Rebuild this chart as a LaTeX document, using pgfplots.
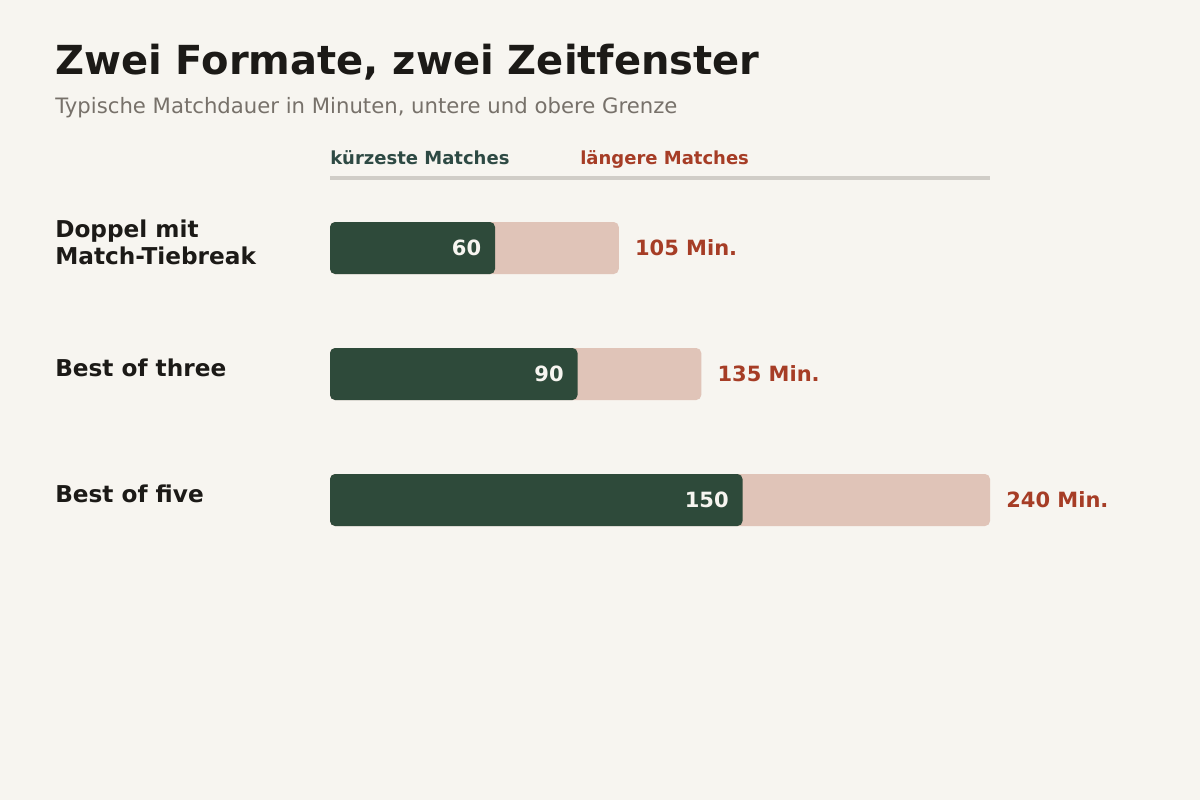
\documentclass[border=0pt]{standalone}
\usepackage{fontspec}
\setmainfont{DejaVu Sans}
\usepackage{pgfplots}
\pgfplotsset{compat=1.18}
\usepackage{pgfplotstable}

\definecolor{bg}{HTML}{F7F5F0}
\definecolor{dark}{HTML}{2E4A3A}
\definecolor{pinkbar}{HTML}{E0C4B8}
\definecolor{rust}{HTML}{A63D26}
\definecolor{ink}{HTML}{1C1A17}
\definecolor{grayt}{HTML}{77716A}
\definecolor{rulec}{HTML}{D0CDC7}
\definecolor{legdark}{HTML}{2E4A44}

% Matchdauer in Minuten
\pgfplotstableread{
pos short long
0   60    105
1   90    135
2   150   240
}\dauer

\begin{document}
\begin{tikzpicture}
% pixel grid: 1px = 0.75pt, y downwards
\begin{scope}[x=0.75pt,y=-0.75pt]
  \fill[bg] (0,0) rectangle (1200,800);
\end{scope}

\begin{axis}[
  at={(0,0)}, anchor=north west,
  scale only axis, width=900pt, height=600pt,
  hide axis, clip=false,
  xmin=-120, xmax=316.3636,
  ymin=-1.96825, ymax=4.38095, y dir=reverse,
  /pgf/number format/assume math mode=true,
  xbar, bar width=39pt, bar shift=0pt,
  point meta=x,
]
  % obere Grenze
  \addplot[fill=pinkbar, draw=none, rounded corners=3.75pt,
    nodes near coords={\pgfmathprintnumber{\pgfplotspointmeta}~Min.},
    every node near coord/.append style={anchor=west, inner sep=0pt,
      xshift=12pt, text=rust, font=\fontsize{15.75pt}{18pt}\selectfont\bfseries}]
    table[x=long, y=pos] {\dauer};
  % untere Grenze
  \addplot[fill=dark, draw=none, rounded corners=3.75pt,
    nodes near coords,
    every node near coord/.append style={anchor=east, inner sep=0pt,
      xshift=-10.2pt, text=bg, font=\fontsize{15.75pt}{18pt}\selectfont\bfseries}]
    table[x=short, y=pos] {\dauer};
\end{axis}

\begin{scope}[x=0.75pt,y=-0.75pt]
  \node[anchor=base west, inner sep=0pt, text=ink,
    font=\fontsize{30pt}{36pt}\selectfont\bfseries] at (55,74)
    {Zwei Formate, zwei Zeitfenster};
  \node[anchor=base west, inner sep=0pt, text=grayt,
    font=\fontsize{15.9pt}{19pt}\selectfont] at (55,113)
    {Typische Matchdauer in Minuten, untere und obere Grenze};
  % Legende
  \node[anchor=base west, inner sep=0pt, text=legdark,
    font=\fontsize{13.5pt}{16pt}\selectfont\bfseries] at (330,164) {kürzeste Matches};
  \node[anchor=base west, inner sep=0pt, text=rust,
    font=\fontsize{13.5pt}{16pt}\selectfont\bfseries] at (580,164) {längere Matches};
  \draw[rulec, line width=3pt] (330,178) -- (990,178);
  % Kategorien
  \begin{scope}[every node/.style={anchor=base west, inner sep=0pt, text=ink,
      font=\fontsize{17.4pt}{21pt}\selectfont\bfseries}]
    \node at (55,237) {Doppel mit};
    \node at (55,264) {Match-Tiebreak};
    \node at (55,376) {Best of three};
    \node at (55,502) {Best of five};
  \end{scope}
\end{scope}
\end{tikzpicture}
\end{document}
